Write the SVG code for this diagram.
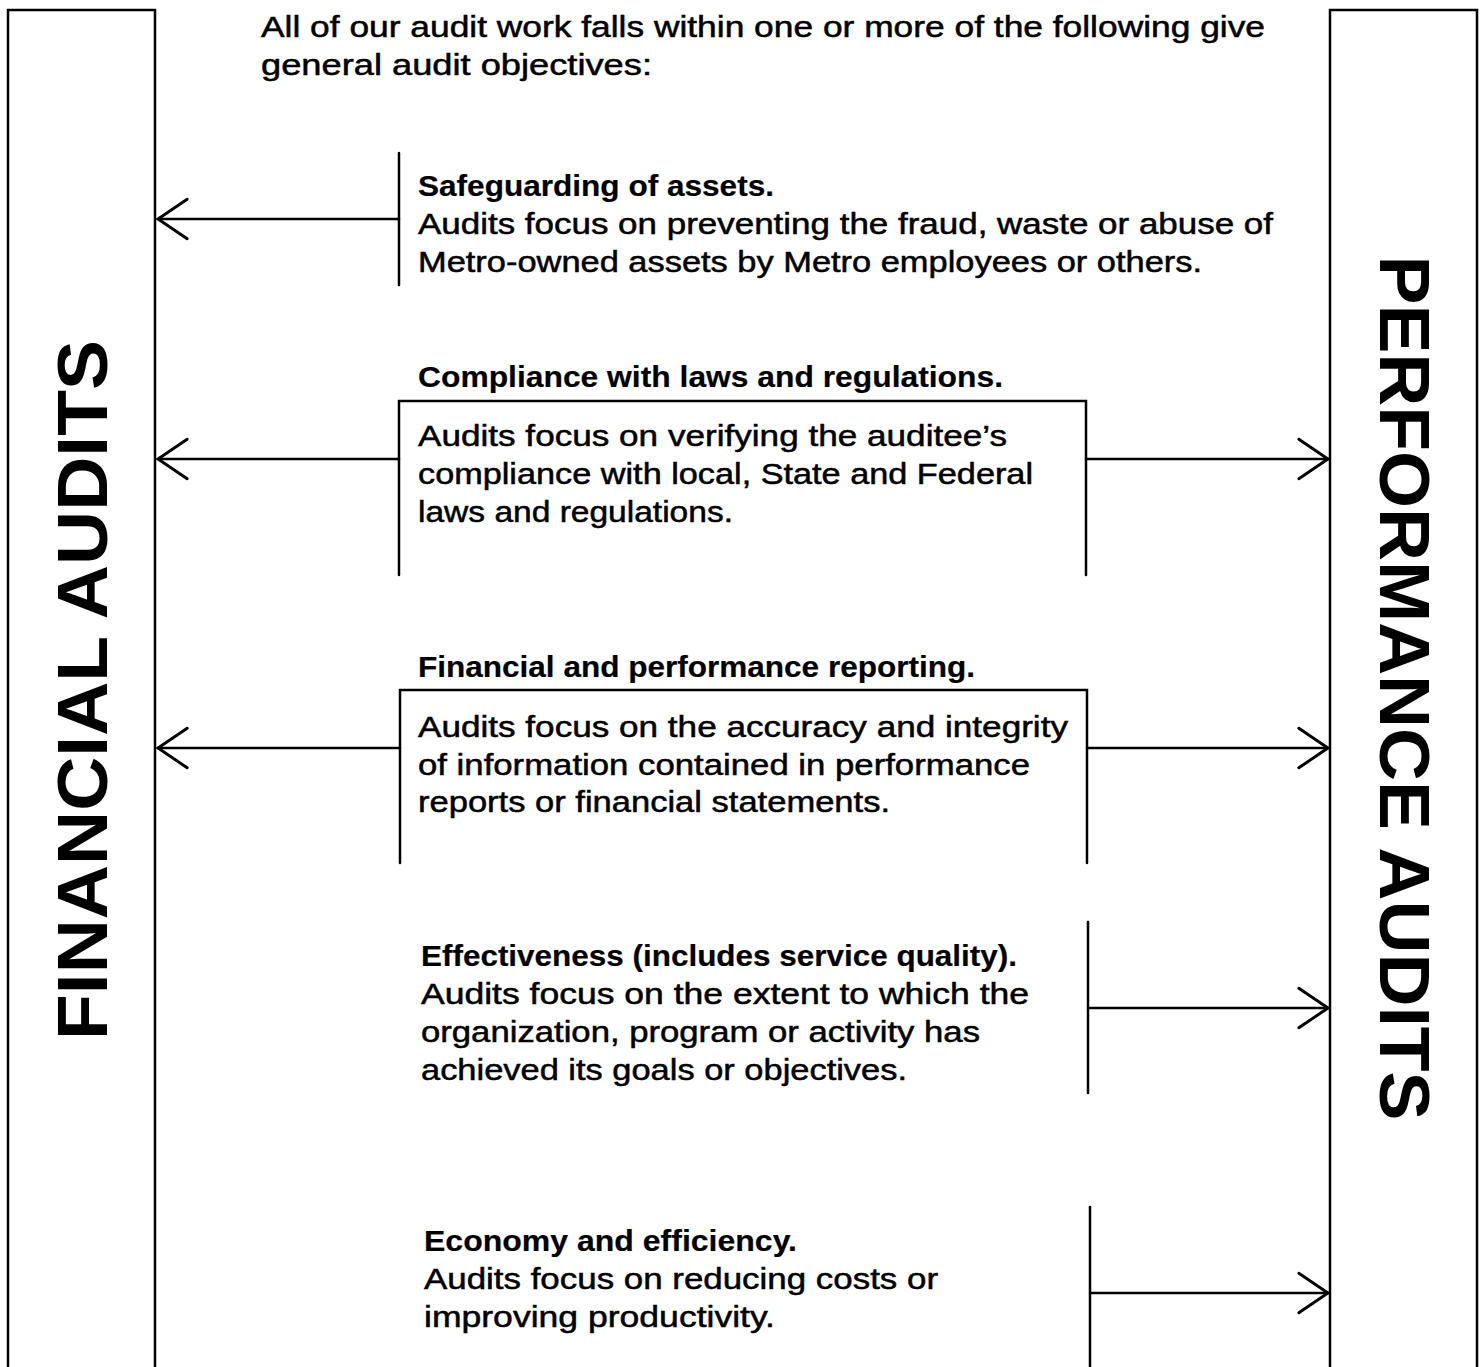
<svg xmlns="http://www.w3.org/2000/svg" width="1483" height="1367" viewBox="0 0 1483 1367">
<style>
.bg{fill:#fff}
.ln{stroke:#000;stroke-width:2.5;fill:none;stroke-linecap:round}
.t{font-family:"Liberation Sans",Arial,sans-serif;font-size:29px;fill:#000;stroke:#000;stroke-width:0.5}
.b{font-weight:bold;stroke-width:0.2}
.side{font-family:"Liberation Sans",Arial,sans-serif;font-size:71px;font-weight:bold;fill:#000}
</style>
<defs>
<marker id="ah" markerUnits="userSpaceOnUse" markerWidth="40" markerHeight="50" refX="0" refY="0" viewBox="-32 -24 36 48" orient="auto" overflow="visible">
<path d="M-28,-19 L0,0 L-28,19" fill="none" stroke="#000" stroke-width="2.8" stroke-linecap="round" stroke-linejoin="miter"/>
</marker>
</defs>
<rect class="bg" x="0" y="0" width="1483" height="1367"/>

<g id="financial-audits">
<path class="ln" d="M8,1367 V10 H155 V1367"/>
<text class="side" transform="translate(107,690) rotate(-90)" text-anchor="middle" textLength="700" lengthAdjust="spacingAndGlyphs">FINANCIAL AUDITS</text>
</g>

<g id="performance-audits">
<path class="ln" d="M1330,1367 V10 H1477 V1367"/>
<text class="side" transform="translate(1380,688) rotate(90)" text-anchor="middle" textLength="865" lengthAdjust="spacingAndGlyphs">PERFORMANCE AUDITS</text>
</g>

<g id="intro">
<text class="t" x="261" y="37" textLength="1004" lengthAdjust="spacingAndGlyphs">All of our audit work falls within one or more of the following give</text>
<text class="t" x="261" y="75" textLength="391" lengthAdjust="spacingAndGlyphs">general audit objectives:</text>
</g>

<g id="safeguarding">
<path class="ln" d="M399,153 V285"/>
<text class="t b" x="418" y="196" textLength="356" lengthAdjust="spacingAndGlyphs">Safeguarding of assets.</text>
<text class="t" x="418" y="234" textLength="855" lengthAdjust="spacingAndGlyphs">Audits focus on preventing the fraud, waste or abuse of</text>
<text class="t" x="418" y="272" textLength="784" lengthAdjust="spacingAndGlyphs">Metro-owned assets by Metro employees or others.</text>
</g>

<g id="compliance">
<text class="t b" x="418" y="387" textLength="585" lengthAdjust="spacingAndGlyphs">Compliance with laws and regulations.</text>
<path class="ln" d="M399,575 V401 H1086 V575"/>
<text class="t" x="418" y="446" textLength="589" lengthAdjust="spacingAndGlyphs">Audits focus on verifying the auditee’s</text>
<text class="t" x="418" y="484" textLength="615" lengthAdjust="spacingAndGlyphs">compliance with local, State and Federal</text>
<text class="t" x="418" y="522" textLength="315" lengthAdjust="spacingAndGlyphs">laws and regulations.</text>
</g>

<g id="reporting">
<text class="t b" x="418" y="677" textLength="557" lengthAdjust="spacingAndGlyphs">Financial and performance reporting.</text>
<path class="ln" d="M400,863 V690 H1087 V863"/>
<text class="t" x="418" y="737" textLength="650" lengthAdjust="spacingAndGlyphs">Audits focus on the accuracy and integrity</text>
<text class="t" x="418" y="775" textLength="612" lengthAdjust="spacingAndGlyphs">of information contained in performance</text>
<text class="t" x="418" y="812" textLength="472" lengthAdjust="spacingAndGlyphs">reports or financial statements.</text>
</g>

<g id="effectiveness">
<path class="ln" d="M1088,922 V1093"/>
<text class="t b" x="421" y="966" textLength="596" lengthAdjust="spacingAndGlyphs">Effectiveness (includes service quality).</text>
<text class="t" x="421" y="1004" textLength="608" lengthAdjust="spacingAndGlyphs">Audits focus on the extent to which the</text>
<text class="t" x="421" y="1042" textLength="559" lengthAdjust="spacingAndGlyphs">organization, program or activity has</text>
<text class="t" x="421" y="1080" textLength="486" lengthAdjust="spacingAndGlyphs">achieved its goals or objectives.</text>
</g>

<g id="economy">
<path class="ln" d="M1090,1207 V1367"/>
<text class="t b" x="424" y="1251" textLength="373" lengthAdjust="spacingAndGlyphs">Economy and efficiency.</text>
<text class="t" x="424" y="1289" textLength="514" lengthAdjust="spacingAndGlyphs">Audits focus on reducing costs or</text>
<text class="t" x="424" y="1327" textLength="351" lengthAdjust="spacingAndGlyphs">improving productivity.</text>
</g>

<g id="connectors">
<line class="ln" x1="399" y1="219" x2="158" y2="219" marker-end="url(#ah)"/>
<line class="ln" x1="399" y1="459" x2="158" y2="459" marker-end="url(#ah)"/>
<line class="ln" x1="1086" y1="459" x2="1328" y2="459" marker-end="url(#ah)"/>
<line class="ln" x1="400" y1="748" x2="158" y2="748" marker-end="url(#ah)"/>
<line class="ln" x1="1087" y1="748" x2="1328" y2="748" marker-end="url(#ah)"/>
<line class="ln" x1="1088" y1="1008" x2="1328" y2="1008" marker-end="url(#ah)"/>
<line class="ln" x1="1090" y1="1293" x2="1328" y2="1293" marker-end="url(#ah)"/>
</g>
</svg>
